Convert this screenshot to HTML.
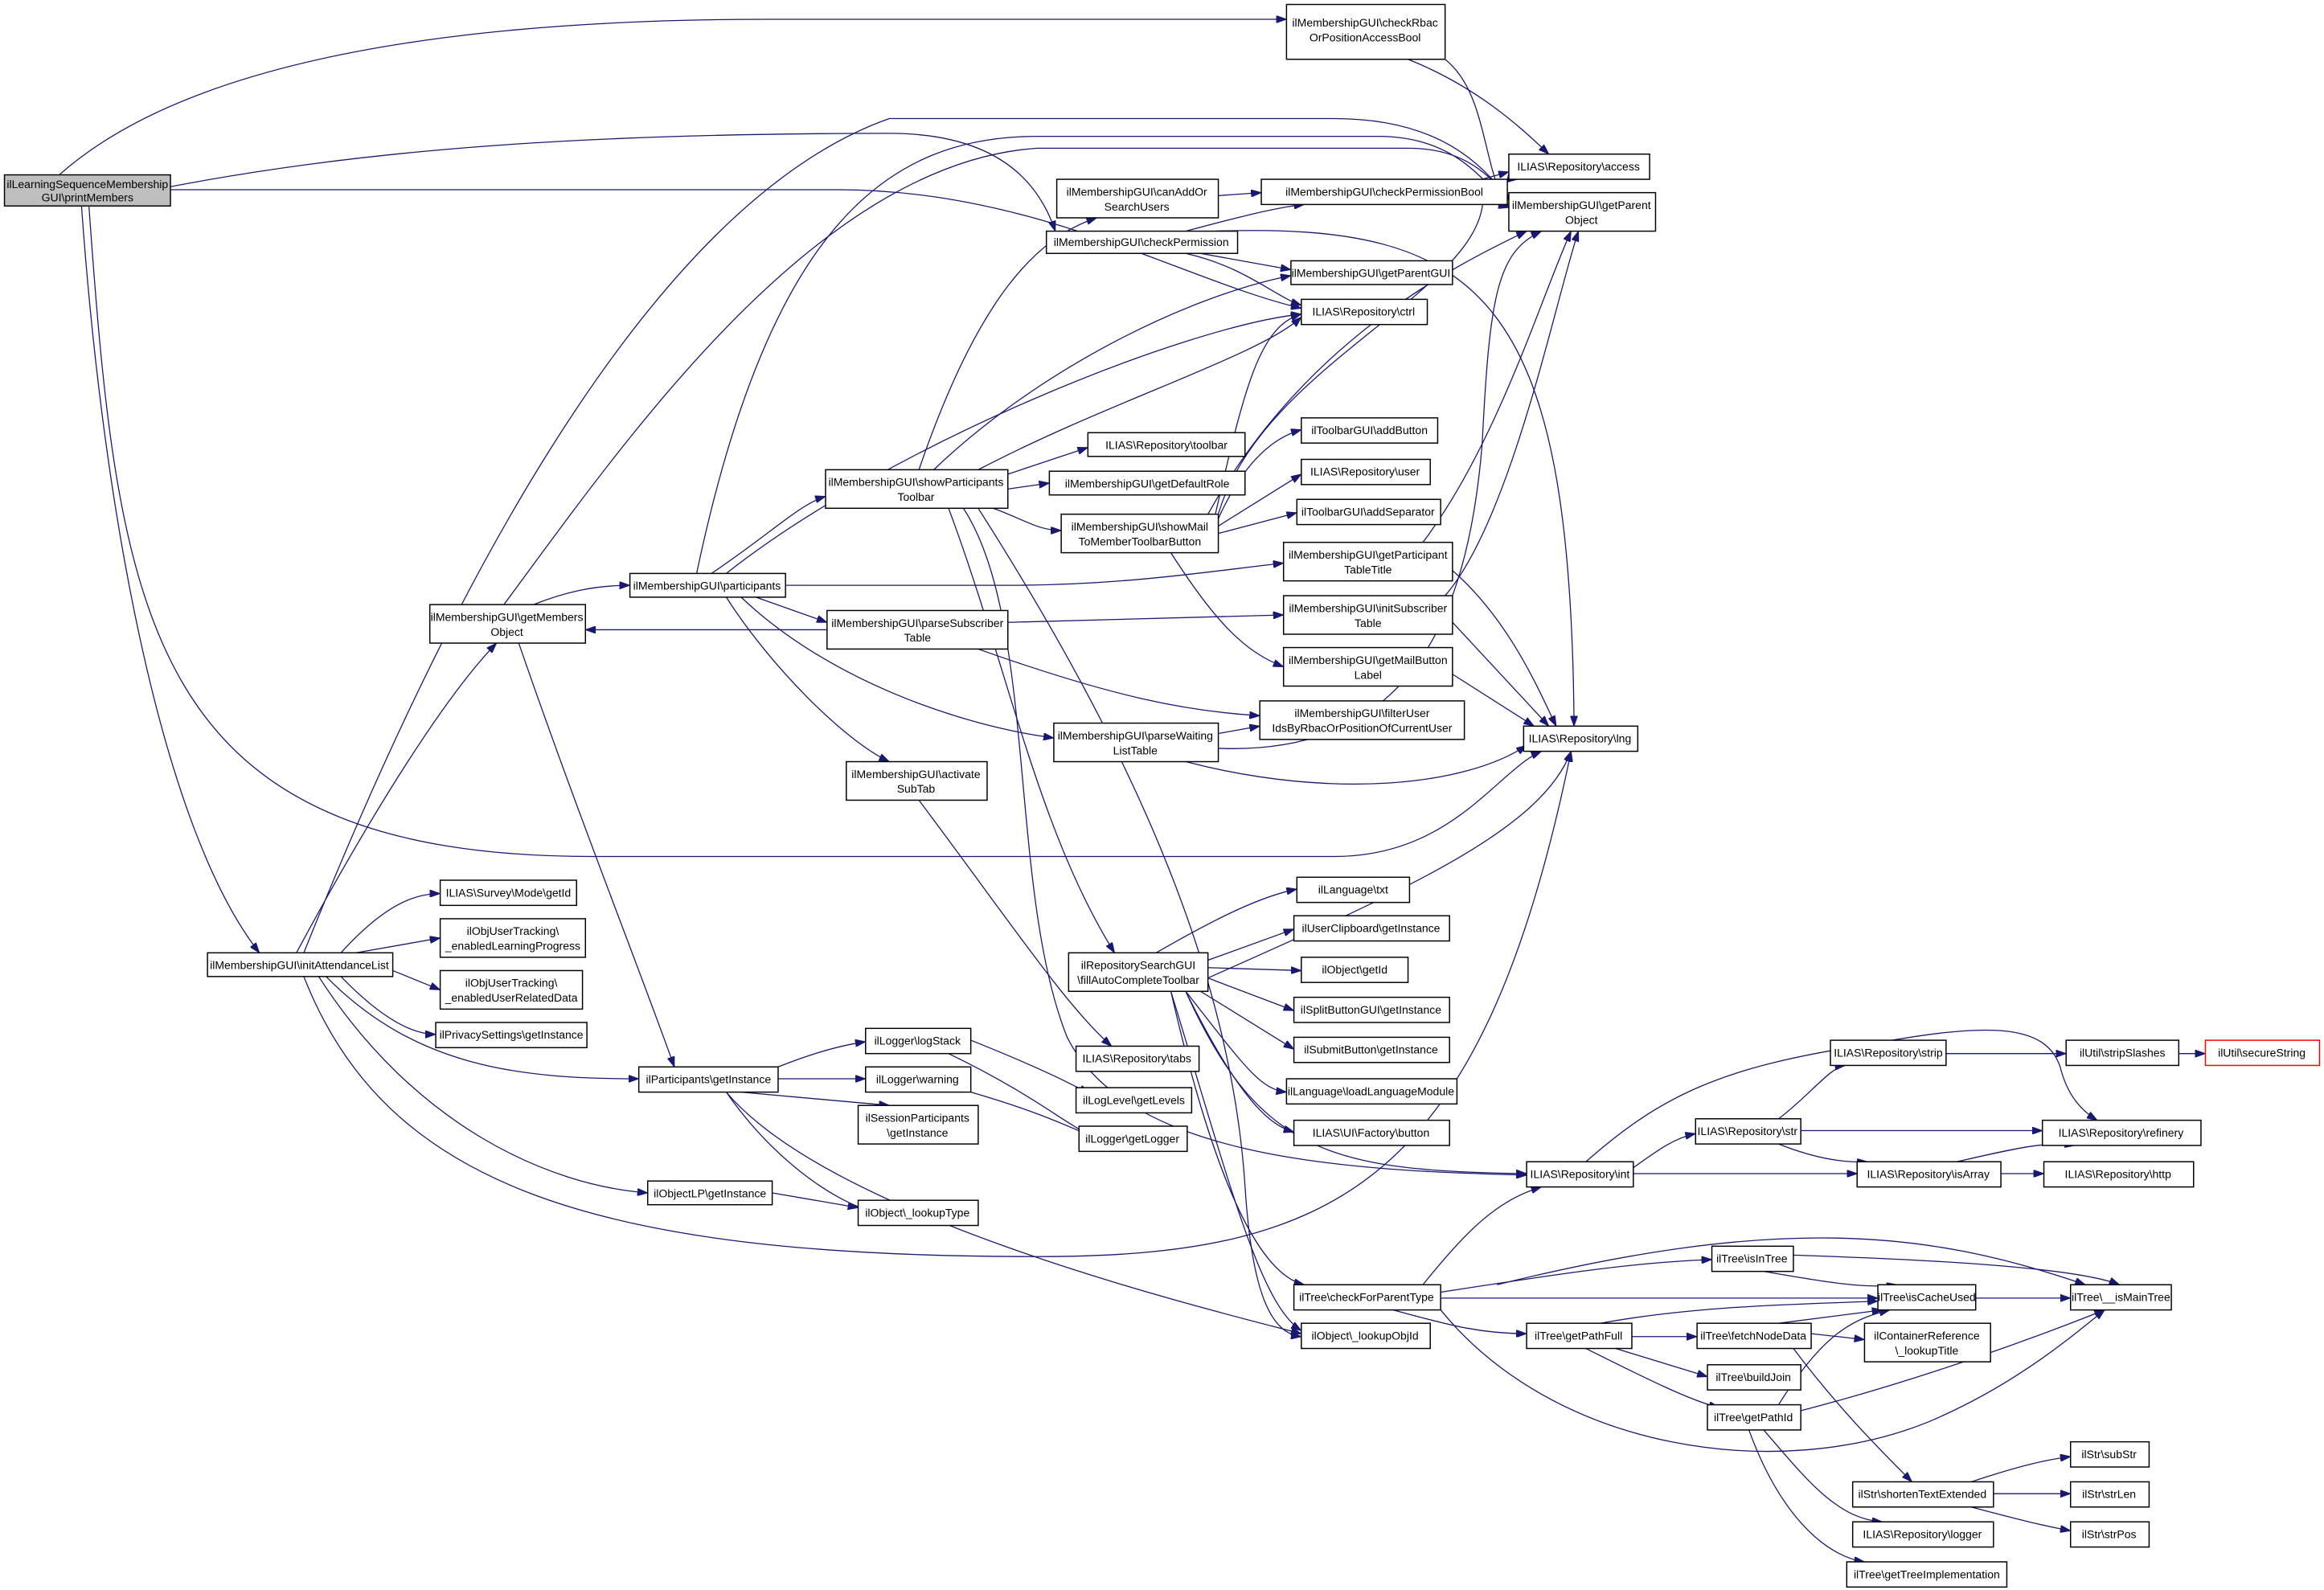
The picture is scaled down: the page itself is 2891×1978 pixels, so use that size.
<!DOCTYPE html>
<html><head><meta charset="utf-8"><style>
html,body{margin:0;padding:0;background:#fff}
svg{display:block}
text{font-family:"Liberation Sans",sans-serif;font-size:7.6px;fill:#000;text-anchor:middle}
.n{fill:#fff;stroke:#000;stroke-width:0.8}
.e{fill:none;stroke:#191970;stroke-width:0.7}
</style></head><body>
<svg width="2891" height="1978" viewBox="0 0 1568 1073" preserveAspectRatio="none" xmlns="http://www.w3.org/2000/svg">
<defs><marker id="a" markerWidth="7" markerHeight="5" refX="7" refY="2.5" orient="auto" markerUnits="userSpaceOnUse"><path d="M0,0 L7,2.5 L0,5 z" fill="#191970" stroke="#191970" stroke-width="0.5"/></marker></defs>
<g class="e" marker-end="url(#a)">
<path d="M40,118 C150,20 400,13 520,13 L868,13"/>
<path d="M115,126 C250,100 400,90 600,90 C670,90 700,120 712,156"/>
<path d="M115,128 L565,128 C700,128 800,190 878,208"/>
<path d="M60,139 C80,420 100,578 400,578 L900,578 C980,578 1010,520 1040,507"/>
<path d="M55,139 C70,350 110,560 175,643"/>
<path d="M950,40 C1000,60 1030,90 1045,104"/>
<path d="M975,40 C1000,60 1000,100 1012,130"/>
<path d="M822,132 L851,130"/>
<path d="M1000,121 L1018,116"/>
<path d="M1010,138 L1018,140"/>
<path d="M800,156 C830,148 860,140 880,138"/>
<path d="M810,171 L871,182"/>
<path d="M800,171 C840,180 860,200 878,206"/>
<path d="M820,156 C1000,150 1060,200 1062,490"/>
<path d="M620,317 C660,200 700,160 740,147"/>
<path d="M630,317 C700,250 800,200 871,186"/>
<path d="M660,317 C750,270 850,240 878,214"/>
<path d="M680,320 L734,302"/>
<path d="M680,330 L708,326"/>
<path d="M670,343 C690,350 700,358 716,358"/>
<path d="M640,343 C680,450 700,560 752,643"/>
<path d="M650,343 C700,420 680,600 720,700 C760,780 900,790 1030,793"/>
<path d="M660,343 C760,500 830,650 840,800 C845,880 860,900 878,902"/>
<path d="M820,347 C840,260 850,220 878,212"/>
<path d="M822,350 C840,310 860,295 878,290"/>
<path d="M822,355 L878,320"/>
<path d="M822,360 L875,346"/>
<path d="M790,373 C820,420 840,440 866,450"/>
<path d="M815,347 C880,230 980,180 1030,156"/>
<path d="M822,347 C850,250 990,200 1000,140 C1003,125 1010,120 1024,121"/>
<path d="M960,366 C1010,300 1040,200 1060,156"/>
<path d="M980,385 C1020,420 1040,470 1050,490"/>
<path d="M975,402 C1020,350 1050,200 1065,156"/>
<path d="M980,420 L1045,490"/>
<path d="M980,455 L1035,490"/>
<path d="M480,387 C520,360 540,340 557,335"/>
<path d="M530,395 L680,395 C760,395 820,385 866,380"/>
<path d="M510,403 L558,420"/>
<path d="M360,408 C380,400 400,395 425,395"/>
<path d="M500,403 C560,460 650,490 711,498"/>
<path d="M490,403 C520,450 570,500 600,514"/>
<path d="M490,387 C600,300 800,220 878,212"/>
<path d="M470,387 C520,150 600,92 700,92 L930,92 C980,92 1000,120 1018,140"/>
<path d="M205,643 C290,430 430,140 600,80 L900,80 C970,80 1000,110 1018,135"/>
<path d="M340,408 C420,300 550,110 700,100 L950,100 C990,100 1005,120 1018,133"/>
<path d="M558,425 L395,425"/>
<path d="M680,420 L866,415"/>
<path d="M660,438 C750,470 800,480 850,483"/>
<path d="M822,495 L850,490"/>
<path d="M822,505 C950,510 990,420 1000,300 C1005,200 1010,170 1040,156"/>
<path d="M800,514 C900,540 990,530 1030,503"/>
<path d="M350,434 C390,550 430,650 455,720"/>
<path d="M200,643 C250,550 300,470 335,434"/>
<path d="M230,643 C260,610 280,603 297,603"/>
<path d="M240,643 L297,633"/>
<path d="M265,655 L297,668"/>
<path d="M230,659 C260,690 280,698 294,698"/>
<path d="M220,659 C280,720 350,728 431,728"/>
<path d="M215,659 C280,760 370,800 437,805"/>
<path d="M205,659 C260,800 400,848 700,848 C900,848 1000,800 1060,507"/>
<path d="M620,540 C680,620 720,680 750,706"/>
<path d="M525,720 C550,710 570,705 584,703"/>
<path d="M525,728 L584,728"/>
<path d="M500,737 L600,746"/>
<path d="M490,737 C520,780 560,810 590,818"/>
<path d="M490,737 C560,820 800,880 878,900"/>
<path d="M521,805 L579,815"/>
<path d="M655,702 C700,720 720,730 735,738"/>
<path d="M640,711 C700,740 720,760 740,768"/>
<path d="M655,737 C700,750 720,760 735,766"/>
<path d="M780,643 C820,620 850,605 875,600"/>
<path d="M815,648 L873,627"/>
<path d="M815,653 L878,655"/>
<path d="M815,660 L873,682"/>
<path d="M810,669 L873,708"/>
<path d="M800,669 C840,720 850,735 868,737"/>
<path d="M800,669 C840,750 860,760 873,764"/>
<path d="M790,669 C820,800 850,860 880,867"/>
<path d="M800,669 C850,780 900,790 1030,792"/>
<path d="M815,660 C950,600 1040,560 1060,507"/>
<path d="M790,669 C830,800 850,880 878,898"/>
<path d="M960,867 C990,830 1010,810 1040,801"/>
<path d="M972,872 C1050,860 1100,852 1155,850"/>
<path d="M972,876 L1267,876"/>
<path d="M1010,867 C1200,820 1300,830 1407,867"/>
<path d="M940,884 C980,895 1000,900 1030,900"/>
<path d="M972,884 C1050,980 1200,1000 1300,960 C1360,935 1400,900 1420,884"/>
<path d="M1102,788 C1120,775 1130,768 1144,765"/>
<path d="M1102,792 L1253,792"/>
<path d="M1070,784 C1120,740 1160,720 1260,705 C1340,690 1380,690 1390,720 C1395,740 1405,750 1415,756"/>
<path d="M1200,755 C1220,740 1235,720 1245,719"/>
<path d="M1215,763 L1378,763"/>
<path d="M1200,772 C1220,780 1240,785 1260,784"/>
<path d="M1313,711 L1394,711"/>
<path d="M1470,711 L1488,711"/>
<path d="M1320,784 C1360,775 1380,770 1400,773"/>
<path d="M1350,792 L1379,792"/>
<path d="M1190,858 C1230,865 1260,870 1280,867"/>
<path d="M1210,847 C1300,850 1400,855 1430,867"/>
<path d="M1333,876 L1397,876"/>
<path d="M1080,893 C1150,880 1230,880 1267,878"/>
<path d="M1101,902 L1145,902"/>
<path d="M1090,910 L1152,929"/>
<path d="M1070,910 C1110,930 1140,945 1160,950"/>
<path d="M1200,893 L1270,884"/>
<path d="M1222,900 L1258,904"/>
<path d="M1210,910 C1240,950 1270,980 1290,1000"/>
<path d="M1200,948 C1230,900 1250,890 1275,884"/>
<path d="M1215,952 C1300,930 1380,900 1420,884"/>
<path d="M1190,965 C1220,1000 1240,1025 1270,1027"/>
<path d="M1180,965 C1200,1020 1230,1050 1258,1054"/>
<path d="M1330,1000 C1360,990 1380,985 1397,983"/>
<path d="M1345,1008 L1397,1008"/>
<path d="M1330,1017 C1360,1025 1380,1030 1397,1033"/>
</g>
<g>
<rect x="3" y="118" width="112" height="21" fill="#bfbfbf" stroke="#000" stroke-width="0.8"/><text x="59" y="127">ilLearningSequenceMembership</text><text x="59" y="136">GUI\printMembers</text>
<rect class="n" x="868" y="3" width="107" height="37"/><text x="921" y="18">ilMembershipGUI\checkRbac</text><text x="921" y="28">OrPositionAccessBool</text>
<rect class="n" x="1018" y="104" width="95" height="17"/><text x="1065" y="115">ILIAS\Repository\access</text>
<rect class="n" x="1018" y="130" width="99" height="26"/><text x="1067" y="141">ilMembershipGUI\getParent</text><text x="1067" y="151">Object</text>
<rect class="n" x="713" y="121" width="109" height="26"/><text x="767" y="132">ilMembershipGUI\canAddOr</text><text x="767" y="142">SearchUsers</text>
<rect class="n" x="851" y="121" width="166" height="17"/><text x="934" y="132">ilMembershipGUI\checkPermissionBool</text>
<rect class="n" x="706" y="156" width="129" height="15"/><text x="770" y="166">ilMembershipGUI\checkPermission</text>
<rect class="n" x="871" y="176" width="109" height="16"/><text x="925" y="187">ilMembershipGUI\getParentGUI</text>
<rect class="n" x="878" y="202" width="85" height="17"/><text x="920" y="213">ILIAS\Repository\ctrl</text>
<rect class="n" x="734" y="292" width="106" height="16"/><text x="787" y="303">ILIAS\Repository\toolbar</text>
<rect class="n" x="708" y="318" width="132" height="16"/><text x="774" y="329">ilMembershipGUI\getDefaultRole</text>
<rect class="n" x="557" y="317" width="123" height="26"/><text x="618" y="328">ilMembershipGUI\showParticipants</text><text x="618" y="338">Toolbar</text>
<rect class="n" x="716" y="347" width="106" height="26"/><text x="769" y="358">ilMembershipGUI\showMail</text><text x="769" y="368">ToMemberToolbarButton</text>
<rect class="n" x="878" y="282" width="92" height="17"/><text x="924" y="293">ilToolbarGUI\addButton</text>
<rect class="n" x="878" y="310" width="87" height="17"/><text x="921" y="321">ILIAS\Repository\user</text>
<rect class="n" x="875" y="337" width="97" height="17"/><text x="923" y="348">ilToolbarGUI\addSeparator</text>
<rect class="n" x="866" y="366" width="114" height="26"/><text x="923" y="377">ilMembershipGUI\getParticipant</text><text x="923" y="387">TableTitle</text>
<rect class="n" x="866" y="402" width="114" height="26"/><text x="923" y="413">ilMembershipGUI\initSubscriber</text><text x="923" y="423">Table</text>
<rect class="n" x="866" y="437" width="114" height="26"/><text x="923" y="448">ilMembershipGUI\getMailButton</text><text x="923" y="458">Label</text>
<rect class="n" x="850" y="473" width="138" height="26"/><text x="919" y="484">ilMembershipGUI\filterUser</text><text x="919" y="494">IdsByRbacOrPositionOfCurrentUser</text>
<rect class="n" x="1028" y="490" width="77" height="17"/><text x="1066" y="501">ILIAS\Repository\lng</text>
<rect class="n" x="425" y="387" width="105" height="16"/><text x="477" y="398">ilMembershipGUI\participants</text>
<rect class="n" x="290" y="408" width="105" height="26"/><text x="342" y="419">ilMembershipGUI\getMembers</text><text x="342" y="429">Object</text>
<rect class="n" x="558" y="412" width="122" height="26"/><text x="619" y="423">ilMembershipGUI\parseSubscriber</text><text x="619" y="433">Table</text>
<rect class="n" x="711" y="488" width="111" height="26"/><text x="766" y="499">ilMembershipGUI\parseWaiting</text><text x="766" y="509">ListTable</text>
<rect class="n" x="571" y="514" width="95" height="26"/><text x="618" y="525">ilMembershipGUI\activate</text><text x="618" y="535">SubTab</text>
<rect class="n" x="297" y="594" width="92" height="17"/><text x="343" y="605">ILIAS\Survey\Mode\getId</text>
<rect class="n" x="297" y="620" width="98" height="26"/><text x="346" y="631">ilObjUserTracking\</text><text x="346" y="641">_enabledLearningProgress</text>
<rect class="n" x="297" y="655" width="96" height="26"/><text x="345" y="666">ilObjUserTracking\</text><text x="345" y="676">_enabledUserRelatedData</text>
<rect class="n" x="294" y="690" width="102" height="17"/><text x="345" y="701">ilPrivacySettings\getInstance</text>
<rect class="n" x="140" y="643" width="125" height="16"/><text x="202" y="654">ilMembershipGUI\initAttendanceList</text>
<rect class="n" x="431" y="720" width="94" height="17"/><text x="478" y="731">ilParticipants\getInstance</text>
<rect class="n" x="584" y="694" width="71" height="17"/><text x="619" y="705">ilLogger\logStack</text>
<rect class="n" x="584" y="720" width="71" height="17"/><text x="619" y="731">ilLogger\warning</text>
<rect class="n" x="579" y="746" width="81" height="26"/><text x="619" y="757">ilSessionParticipants</text><text x="619" y="767">\getInstance</text>
<rect class="n" x="437" y="797" width="84" height="16"/><text x="479" y="808">ilObjectLP\getInstance</text>
<rect class="n" x="579" y="810" width="81" height="17"/><text x="619" y="821">ilObject\_lookupType</text>
<rect class="n" x="726" y="734" width="78" height="17"/><text x="765" y="745">ilLogLevel\getLevels</text>
<rect class="n" x="728" y="760" width="73" height="17"/><text x="764" y="771">ilLogger\getLogger</text>
<rect class="n" x="726" y="706" width="83" height="17"/><text x="767" y="717">ILIAS\Repository\tabs</text>
<rect class="n" x="721" y="643" width="94" height="26"/><text x="768" y="654">ilRepositorySearchGUI</text><text x="768" y="664">\fillAutoCompleteToolbar</text>
<rect class="n" x="875" y="592" width="76" height="17"/><text x="913" y="603">ilLanguage\txt</text>
<rect class="n" x="873" y="618" width="105" height="17"/><text x="925" y="629">ilUserClipboard\getInstance</text>
<rect class="n" x="878" y="646" width="72" height="17"/><text x="914" y="657">ilObject\getId</text>
<rect class="n" x="873" y="673" width="105" height="17"/><text x="925" y="684">ilSplitButtonGUI\getInstance</text>
<rect class="n" x="873" y="700" width="105" height="17"/><text x="925" y="711">ilSubmitButton\getInstance</text>
<rect class="n" x="868" y="728" width="115" height="17"/><text x="925" y="739">ilLanguage\loadLanguageModule</text>
<rect class="n" x="873" y="756" width="105" height="17"/><text x="925" y="767">ILIAS\UI\Factory\button</text>
<rect class="n" x="873" y="867" width="99" height="17"/><text x="922" y="878">ilTree\checkForParentType</text>
<rect class="n" x="878" y="893" width="87" height="17"/><text x="921" y="904">ilObject\_lookupObjId</text>
<rect class="n" x="1030" y="784" width="72" height="17"/><text x="1066" y="795">ILIAS\Repository\int</text>
<rect class="n" x="1144" y="755" width="71" height="17"/><text x="1179" y="766">ILIAS\Repository\str</text>
<rect class="n" x="1235" y="702" width="78" height="17"/><text x="1274" y="713">ILIAS\Repository\strip</text>
<rect class="n" x="1394" y="702" width="76" height="17"/><text x="1432" y="713">ilUtil\stripSlashes</text>
<rect x="1488" y="702" width="77" height="17" fill="#fff" stroke="#ff0000" stroke-width="0.8"/><text x="1526" y="713">ilUtil\secureString</text>
<rect class="n" x="1378" y="756" width="107" height="17"/><text x="1431" y="767">ILIAS\Repository\refinery</text>
<rect class="n" x="1253" y="784" width="97" height="17"/><text x="1301" y="795">ILIAS\Repository\isArray</text>
<rect class="n" x="1379" y="784" width="101" height="17"/><text x="1429" y="795">ILIAS\Repository\http</text>
<rect class="n" x="1155" y="841" width="55" height="17"/><text x="1182" y="852">ilTree\isInTree</text>
<rect class="n" x="1267" y="867" width="66" height="17"/><text x="1300" y="878">ilTree\isCacheUsed</text>
<rect class="n" x="1397" y="867" width="68" height="17"/><text x="1431" y="878">ilTree\__isMainTree</text>
<rect class="n" x="1030" y="893" width="71" height="17"/><text x="1065" y="904">ilTree\getPathFull</text>
<rect class="n" x="1145" y="893" width="77" height="17"/><text x="1183" y="904">ilTree\fetchNodeData</text>
<rect class="n" x="1258" y="893" width="85" height="26"/><text x="1300" y="904">ilContainerReference</text><text x="1300" y="914">\_lookupTitle</text>
<rect class="n" x="1152" y="921" width="63" height="17"/><text x="1183" y="932">ilTree\buildJoin</text>
<rect class="n" x="1152" y="948" width="63" height="17"/><text x="1183" y="959">ilTree\getPathId</text>
<rect class="n" x="1250" y="1000" width="95" height="17"/><text x="1297" y="1011">ilStr\shortenTextExtended</text>
<rect class="n" x="1397" y="973" width="53" height="17"/><text x="1423" y="984">ilStr\subStr</text>
<rect class="n" x="1397" y="1000" width="53" height="17"/><text x="1423" y="1011">ilStr\strLen</text>
<rect class="n" x="1397" y="1027" width="53" height="17"/><text x="1423" y="1038">ilStr\strPos</text>
<rect class="n" x="1250" y="1027" width="95" height="17"/><text x="1297" y="1038">ILIAS\Repository\logger</text>
<rect class="n" x="1246" y="1054" width="108" height="17"/><text x="1300" y="1065">ilTree\getTreeImplementation</text>
</g>
</svg>
</body></html>
